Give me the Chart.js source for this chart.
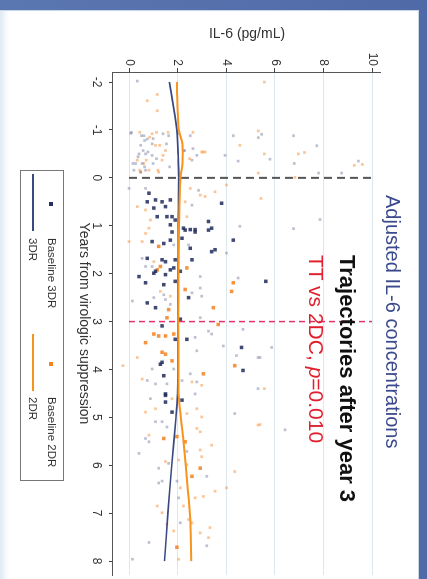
<!DOCTYPE html>
<html lang="en">
<head>
    <meta charset="UTF-8">
    <title>Adjusted IL-6 concentrations</title>
    <script src="https://cdn.jsdelivr.net/npm/chart.js"></script>
    <style>
        html, body {
            margin: 0;
            padding: 0;
            width: 427px;
            height: 579px;
            overflow: hidden;
            background: #ffffff;
            font-family: 'Liberation Sans', Arial, sans-serif;
        }
        /* the slide is drawn landscape and turned a quarter clockwise */
        .slide {
            position: absolute;
            left: 0;
            top: 0;
            width: 579px;
            height: 427px;
            transform-origin: 0 0;
            transform: translateX(427px) rotate(90deg);
            background: linear-gradient(180deg, #4f6aa6 0%, #5b77b2 100%);
        }
        .panel {
            position: absolute;
            left: 10px;
            top: 8px;
            right: 0;
            bottom: 0;
            background: #ffffff;
            border-left: 1px solid #c9d6ea;
            border-top: 1px solid #c9d6ea;
            box-shadow: inset 0 -8px 6px -4px #dfe7f3;
        }
        canvas {
            position: absolute;
            left: 0;
            top: 0;
        }
        .txt {
            position: absolute;
            white-space: nowrap;
            line-height: 1;
        }
        .title { left: 195px; top: 24px; font-size: 20px; color: #3b4a8c; }
        .traj { left: 255px; top: 69px; font-size: 22px; font-weight: bold; color: #111; }
        .pval { left: 255px; top: 100px; font-size: 21px; color: #e0202e; }
        .legend {
            position: absolute;
            left: 170px;
            top: 363px;
            width: 309px;
            height: 42px;
            border: 1px solid #777;
            background: #fff;
        }
        .legend span {
            position: absolute;
            font-size: 11.5px;
            color: #333;
            line-height: 1;
            white-space: nowrap;
        }
        .legend i {
            position: absolute;
            display: block;
        }
    </style>
</head>
<body>
    <div class="slide">
        <div class="panel"></div>
        <canvas id="il6Chart" width="579" height="427"></canvas>
        <div class="txt title">Adjusted IL-6 concentrations</div>
        <div class="txt traj">Trajectories after year 3</div>
        <div class="txt pval">TT vs 2DC, <i>p</i>=0.010</div>
        <div class="legend">
            <i style="left:31px;top:10px;width:4px;height:4px;background:#27305f;"></i>
            <span style="left:67px;top:6px;">Baseline 3DR</span>
            <i style="left:191px;top:10px;width:4px;height:4px;background:#f5821f;"></i>
            <span style="left:226px;top:6px;">Baseline 2DR</span>
            <i style="left:3px;top:29px;width:57px;height:2px;background:#3a4a80;"></i>
            <span style="left:67px;top:25px;">3DR</span>
            <i style="left:163px;top:29px;width:57px;height:2px;background:#f7941d;"></i>
            <span style="left:226px;top:25px;">2DR</span>
        </div>
    </div>

    <script>
        // axis ticks
        const yearTicks = [-2, -1, 0, 1, 2, 3, 4, 5, 6, 7, 8];
        const il6Ticks = [0, 2, 4, 6, 8, 10];

        // fitted trajectories
        const traj3drYears = [-2, -1, -0.5, 0, 1, 2, 3, 4, 4.5, 5, 6, 7, 8];
        const traj3drIL6 = [1.66, 1.97, 2.02, 2.05, 2.03, 2.02, 2.02, 2.02, 2.0, 1.93, 1.76, 1.6, 1.46];
        const traj2drYears = [-2, -1, -0.7, -0.3, 0, 1, 2, 3, 4, 4.5, 5.5, 6.5, 7.2, 8];
        const traj2drIL6 = [1.97, 2.05, 2.2, 2.2, 2.12, 2.06, 2.04, 2.03, 2.04, 2.04, 2.24, 2.42, 2.53, 2.56];

        // reference lines: virologic suppression and year 3
        const refYears = [0, 3];

        // baseline 3DR (dark markers)
        const base3drYears = [0.32, 0.46, 0.50, 0.50, 0.60, 0.46, 0.63, 0.81, 0.81, 0.81, 0.88, 0.98, 1.05, 1.08, 1.08, 0.91, 1.05, 0.53,
            1.13, 1.09, 1.13, 1.09, 1.33, 1.37, 1.30, 1.26, 1.47, 1.54, 1.50, 1.68, 1.71, 1.75, 1.71, 1.71, 1.92, 1.88, 1.95, 2.06,
            1.99, 2.02, 1.95, 2.19, 2.23, 2.16, 2.50, 2.61, 2.71, 2.95, 3.09, 3.37, 3.37, 3.54, 4.02, 3.85, 3.89, 4.13, 4.51, 1.30,
            4.54, 4.68, 4.89, 4.64, 2.16];
        const base3drIL6 = [0.82, 1.09, 0.75, 1.36, 1.50, 1.70, 1.02, 1.16, 1.56, 1.77, 1.90, 1.70, 2.24, 2.52, 2.72, 3.27, 3.40, 3.81,
            1.77, 2.31, 2.72, 3.27, 0.95, 1.43, 1.70, 2.18, 2.52, 3.40, 3.54, 0.75, 1.36, 1.50, 1.90, 2.59, 1.70, 1.84, 1.09, 0.41,
            1.02, 1.50, 2.11, 0.68, 1.43, 1.90, 2.45, 0.75, 1.09, 2.11, 1.36, 2.38, 1.90, 4.63, 4.69, 1.36, 1.29, 1.43, 1.50, 4.29,
            1.50, 1.50, 1.77, 2.18, 5.63];

        // other 3DR measurements (faint markers)
        const other3drYears = [-2.02, -0.93, -0.88, -0.81, -0.71, -0.68, -0.50, -0.50, -0.47, -0.30, -0.30, -0.16, -0.16, -0.12,
            -0.88, -0.92, -0.88, -0.37, -0.47, -0.57, -0.88, -0.47, -0.35, 0.22, 0.22, 0.26, 0.57, 1.01,
            1.40, 1.40, 1.57, 1.68, 1.85, 1.85, 2.06, 2.09, 2.57, 2.50, 2.44, 2.54, 2.64, 2.40, 2.30, 2.47, 2.92, 3.20, 3.33,
            3.26, 3.51, 3.16, 3.71, 3.75, 3.61, 3.99, 3.99, 4.09, 4.23, 4.30, 4.30, 4.23, 4.26, 4.40,
            4.61, 5.09, 5.09, 5.20, 5.44, 5.51, 5.75, 5.71, 5.96, 6.06, 6.23, 6.37, 6.33, 6.33, 6.68, 7.20, 7.61, 7.68, 7.96,
            4.92, 4.51,
            -0.84, -0.91, -0.88, -0.67, -0.39, -0.30, -0.10, -0.10, -0.35, 0.87, 1.06, 3.54, 3.75, 5.26,
            -0.95, -0.88, -0.78, -0.82, -0.92, -0.71, -0.57, -0.54, -0.44, -0.40, -0.30, -0.23, -0.30, -0.23, -0.57, -0.61];
        const other3drIL6 = [0.34, 0.07, 0.61, 0.75, 0.95, 0.48, 0.68, 0.41, 0.95, 0.27, 0.54, 0.20, 0.68, 0.48,
            1.63, 2.04, 2.52, 2.59, 2.79, 2.24, 4.29, 3.95, 4.49, 0.00, 0.68, 2.86, 2.59, 4.56,
            1.84, 2.45, 4.01, 0.54, 0.68, 0.95, 2.93, 4.49, 0.14, 1.02, 1.43, 1.50, 1.70, 2.59, 2.93, 2.99, 2.93, 3.27, 2.72,
            3.40, 3.88, 4.69, 4.42, 5.31, 2.79, 0.95, 1.84, 2.52, 0.75, 1.09, 1.56, 2.18, 2.79, 5.31,
            0.88, 1.09, 1.36, 1.56, 0.68, 0.82, 0.41, 2.38, 1.63, 1.22, 3.20, 1.22, 1.36, 1.97, 2.04, 2.11, 0.82, 3.20, 0.14,
            4.35, 2.72,
            5.32, 5.46, 6.77, 7.73, 5.80, 6.80, 7.80, 8.75, 9.44, 7.86, 6.77, 5.87, 5.39, 6.42,
            0.10, 0.51, 0.64, 0.99, 1.40, 1.54, 0.58, 0.78, 0.37, 1.13, 0.16, 0.64, 0.99, 1.67, 2.29, 2.63];

        // baseline 2DR (dark markers)
        const base2drYears = [1.43, 1.85, 1.92, 1.88, 2.33, 2.19, 2.37, 2.71, 2.75, 2.92, 3.26, 3.30, 3.30, 3.26, 3.44, 3.64, 3.68,
            3.82, 4.09, 3.92, 3.06, 5.44, 5.51, 5.40, 6.06, 6.23, 7.71];
        const base2drIL6 = [1.22, 1.29, 1.16, 2.38, 2.31, 4.29, 4.22, 3.47, 1.63, 1.56, 1.02, 1.22, 1.50, 1.84, 0.68, 1.36, 1.50,
            1.77, 3.06, 4.35, 3.67, 1.43, 2.31, 1.97, 2.93, 2.59, 1.97];

        // other 2DR measurements (faint markers)
        const other2drYears = [-1.61, -1.74, -1.40, -0.92, -0.68, -0.57, -0.37, -0.16, -0.12, -0.12, -0.37, -0.30, -0.54, -0.54,
            -0.68, 0.15, 0.60, 0.67, 0.88, 0.22, 0.36, 0.39, 0.29, 0.50, 0.81, 1.05,
            1.33, 1.33, 1.16, 1.75, 2.37, 2.47, 3.75, 3.92, 4.20, 4.26, 4.33,
            4.89, 4.82, 4.61, 4.82, 4.99, 4.92, 5.37, 5.23, 5.30, 5.58, 5.68, 5.82, 5.92, 5.99, 5.89, 6.13, 6.54, 6.47, 6.65,
            6.68, 6.47, 6.85, 6.85, 6.99, 7.23, 7.13, 7.20, 7.30, 7.41, 7.51, 7.37, 7.96, 5.16,
            -2.00, -0.98, -0.50, -0.10, -0.50, -0.53, -0.26, -0.28, 0.43, 4.40, 5.15, -0.01,
            -0.95, -0.85, -0.95, -0.95, -0.68, -0.37, -0.47, -0.16, -0.16, -0.95, -0.54, -0.40];
        const other2drIL6 = [0.75, 1.16, 1.16, 0.95, 1.09, 1.50, 1.36, 0.82, 1.22, 0.48, 0.34, 0.61, 2.99, 3.13,
            4.56, 4.01, 0.34, 0.68, 0.88, 2.52, 2.93, 3.13, 3.54, 2.31, 2.38, 0.82,
            0.00, 0.54, 0.68, 1.02, 1.29, 1.70, 0.34, -0.25, 0.54, 2.59, 2.99,
            0.68, 1.09, 1.77, 2.79, 2.99, 2.38, 0.82, 2.79, 2.93, 3.40, 2.93, 2.99, 1.50, 2.38, 2.04, 4.35, 3.54, 4.01, 3.06,
            2.72, 2.11, 2.24, 1.16, 1.36, 1.56, 2.45, 2.59, 3.33, 2.93, 3.27, 1.84, 2.04, 5.31,
            5.57, 5.32, 5.57, 5.32, 6.97, 7.22, 9.27, 9.60, 5.43, 5.57, 5.39, 6.83,
            0.44, 0.85, 1.13, 1.61, 1.26, 0.71, 1.40, 0.44, 1.19, 2.63, 3.05, 2.49];

        function pairs(xs, ys) {
            return xs.map((x, i) => ({ x: x, y: ys[i] }));
        }

        function refLine(year) {
            return [{ x: year, y: il6Ticks[0] }, { x: year, y: il6Ticks[il6Ticks.length - 1] }];
        }

        function points(label, xs, ys, color, radius, order) {
            return {
                type: 'scatter',
                label: label,
                data: pairs(xs, ys),
                backgroundColor: color,
                pointStyle: 'rect',
                pointRadius: radius,
                pointBorderWidth: 0,
                order: order
            };
        }

        function trend(label, xs, ys, color, width, order) {
            return {
                type: 'line',
                label: label,
                data: pairs(xs, ys),
                borderColor: color,
                borderWidth: width,
                pointRadius: 0,
                tension: 0.3,
                fill: false,
                order: order
            };
        }

        Chart.defaults.font.family = "'Liberation Sans', Arial, sans-serif";
        Chart.defaults.color = '#333';

        const ctx = document.getElementById('il6Chart').getContext('2d');
        new Chart(ctx, {
            type: 'scatter',
            data: {
                datasets: [
                    trend('2DR', traj2drYears, traj2drIL6, '#f7941d', 2, 0),
                    trend('3DR', traj3drYears, traj3drIL6, '#3a4a80', 1.6, 1),
                    {
                        type: 'line', label: 'ref0', data: refLine(refYears[0]),
                        borderColor: '#555', borderWidth: 2, borderDash: [8, 5], pointRadius: 0, order: 2
                    },
                    {
                        type: 'line', label: 'ref3', data: refLine(refYears[1]),
                        borderColor: '#e2336a', borderWidth: 1.5, borderDash: [6, 4], pointRadius: 0, order: 2
                    },
                    points('Baseline 3DR', base3drYears, base3drIL6, 'rgba(32, 42, 92, 0.85)', 2.5, 3),
                    points('Baseline 2DR', base2drYears, base2drIL6, 'rgba(245, 128, 30, 0.85)', 2.5, 4),
                    points('3DR', other3drYears, other3drIL6, 'rgba(80, 90, 135, 0.38)', 1.9, 5),
                    points('2DR', other2drYears, other2drIL6, 'rgba(247, 140, 50, 0.5)', 1.9, 6)
                ]
            },
            options: {
                responsive: false,
                animation: false,
                layout: { padding: { left: 0, right: 0, top: 46, bottom: 73 } },
                plugins: {
                    legend: { display: false },
                    tooltip: { enabled: false }
                },
                scales: {
                    x: {
                        type: 'linear',
                        position: 'bottom',
                        min: -2.21,
                        max: 8.29,
                        afterBuildTicks: axis => { axis.ticks = yearTicks.map(v => ({ value: v })); },
                        afterFit: axis => { axis.height = 40; },
                        ticks: { font: { size: 12 }, color: '#333', padding: 5, maxRotation: 0 },
                        grid: { drawOnChartArea: false, drawTicks: true, tickLength: 4, tickColor: '#444' },
                        border: { color: '#555', width: 1 },
                        title: {
                            display: true,
                            text: 'Years from virologic suppression',
                            font: { size: 14 },
                            color: '#333',
                            padding: { top: 0, bottom: 2 }
                        }
                    },
                    y: {
                        type: 'linear',
                        position: 'left',
                        min: -0.66,
                        max: 10.37,
                        afterBuildTicks: axis => { axis.ticks = il6Ticks.map(v => ({ value: v })); },
                        afterFit: axis => { axis.width = 72; },
                        ticks: { font: { size: 12 }, color: '#333', padding: 2 },
                        grid: { color: '#dce8ee', lineWidth: 1, tickLength: 4, tickColor: '#444' },
                        border: { color: '#555', width: 1 },
                        title: {
                            display: true,
                            text: 'IL-6 (pg/mL)',
                            font: { size: 14 },
                            color: '#333',
                            padding: { top: 25.6, bottom: 0 }
                        }
                    }
                }
            }
        });
    </script>
</body>
</html>
